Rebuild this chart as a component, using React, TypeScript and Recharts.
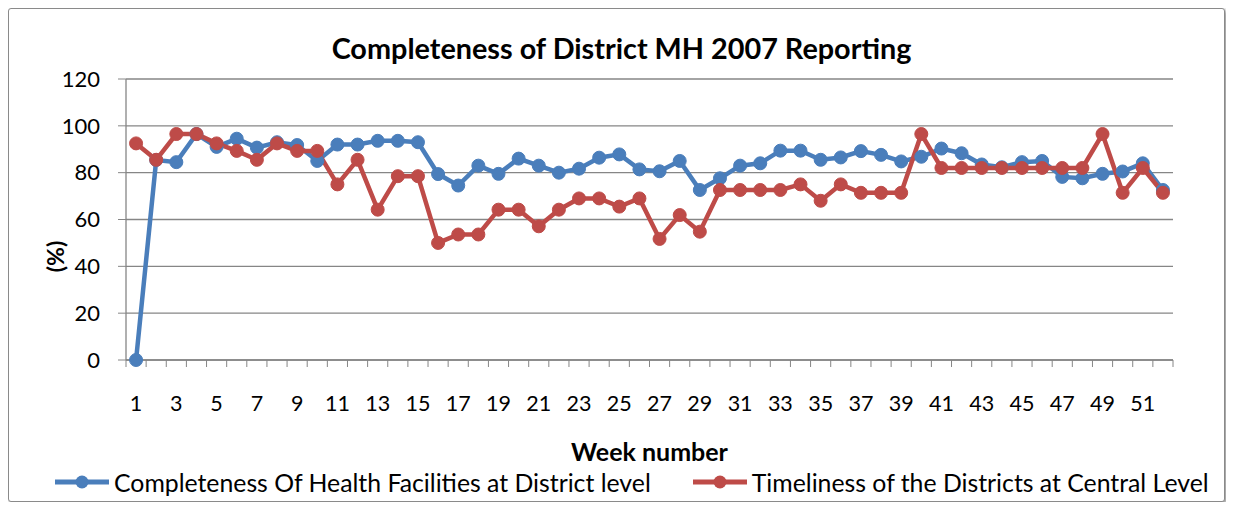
import React from 'react';
import {
  LineChart,
  Line,
  XAxis,
  YAxis,
  CartesianGrid,
  Legend,
  Label,
} from 'recharts';

// week numbers on the category axis
const weeks = [
  1, 2, 3, 4, 5, 6, 7, 8, 9, 10, 11, 12, 13, 14, 15, 16, 17, 18, 19, 20, 21, 22, 23, 24, 25, 26,
  27, 28, 29, 30, 31, 32, 33, 34, 35, 36, 37, 38, 39, 40, 41, 42, 43, 44, 45, 46, 47, 48, 49, 50,
  51, 52,
];

// Completeness Of Health Facilities at District level (%)
const completeness = [
  0, 85.4, 84.5, 96.5, 91, 94.5, 90.7, 93, 91.8, 85, 92, 92, 93.6, 93.6, 93, 79.4, 74.5, 83, 79.5,
  86, 83, 80, 81.7, 86.4, 87.8, 81.4, 80.6, 85, 72.6, 77.6, 83, 84, 89.4, 89.4, 85.5, 86.5, 89.2,
  87.6, 84.8, 86.8, 90.3, 88.3, 83.5, 82.3, 84.5, 85, 78.2, 77.6, 79.5, 80.5, 84, 72.6,
];

// Timeliness of the Districts at Central Level (%)
const timeliness = [
  92.5, 85.5, 96.5, 96.5, 92.5, 89.3, 85.5, 92.5, 89.3, 89.3, 75, 85.5, 64.2, 78.5, 78.5, 50, 53.6,
  53.6, 64.2, 64.2, 57.1, 64.2, 69, 69, 65.5, 69, 51.7, 61.9, 54.8, 72.6, 72.6, 72.6, 72.6, 75, 68,
  75, 71.4, 71.4, 71.4, 96.5, 82, 82, 82, 82, 82, 82, 82, 82, 96.5, 71.4, 82, 71.4,
];

const yTicks = [0, 20, 40, 60, 80, 100, 120];

const seriesNames = [
  'Completeness Of Health Facilities at District level',
  'Timeliness of the Districts at Central Level',
];
const colors = ['#4a7ebb', '#be4b48'];

const chartData = weeks.map((w, i) => ({
  week: w,
  completeness: completeness[i],
  timeliness: timeliness[i],
}));

const FONT = 'Lato, "Open Sans", sans-serif';
const AXIS = '#868686';
const W = 1215;
const H = 492;
const MARGIN = { top: 70, right: 51, left: 57, bottom: 4 };
const Y_AXIS_W = 60;
const PLOT_W = W - MARGIN.left - MARGIN.right - Y_AXIS_W;
const BAND = PLOT_W / weeks.length;

// tick marks sit between categories (Excel style), labels on every other week
const WeekTick = (props: any) => {
  const { x, y, payload, index } = props;
  const half = BAND / 2;
  return (
    <g>
      <line x1={x - half} x2={x - half} y1={y} y2={y + 7} stroke={AXIS} />
      {index === weeks.length - 1 && (
        <line x1={x + half} x2={x + half} y1={y} y2={y + 7} stroke={AXIS} />
      )}
      {index % 2 === 0 && (
        <text
          x={x}
          y={y + 43}
          textAnchor="middle"
          dominantBaseline="central"
          fontFamily={FONT}
          fontSize={21.5}
          fill="#000"
        >
          {payload.value}
        </text>
      )}
    </g>
  );
};

const renderLegend = () => (
  <div style={{ display: 'flex', alignItems: 'center', height: 30, fontFamily: FONT, fontSize: 24.8 }}>
    {seriesNames.map((name, i) => (
      <div key={name} style={{ display: 'flex', alignItems: 'center', marginRight: 42 }}>
        <svg width={54} height={16} style={{ marginRight: 5 }}>
          <line x1={0} x2={54} y1={8} y2={8} stroke={colors[i]} strokeWidth={5} />
          <circle cx={27} cy={8} r={6.5} fill={colors[i]} />
        </svg>
        <span style={{ color: '#000', whiteSpace: 'nowrap' }}>{name}</span>
      </div>
    ))}
  </div>
);

export default function App() {
  return (
    <div
      style={{
        position: 'relative',
        width: 1217,
        height: 494,
        boxSizing: 'border-box',
        border: '1px solid #8a8a8a',
        borderRadius: 3,
        boxShadow: '2px 2px 4px rgba(0,0,0,0.45)',
        background: '#fff',
      }}
    >
      <div
        style={{
          position: 'absolute',
          left: 0,
          right: 0,
          top: 21,
          paddingLeft: 10,
          textAlign: 'center',
          fontFamily: FONT,
          fontWeight: 'bold',
          fontSize: 28.8,
          lineHeight: '36px',
          color: '#000',
        }}
      >
        Completeness of District MH 2007 Reporting
      </div>
      <LineChart width={W} height={H} data={chartData} margin={MARGIN}>
        <CartesianGrid vertical={false} stroke={AXIS} strokeWidth={1.3} />
        <XAxis
          dataKey="week"
          scale="band"
          interval={0}
          height={107}
          tick={<WeekTick />}
          tickLine={false}
          tickSize={0}
          tickMargin={0}
          axisLine={{ stroke: AXIS, strokeWidth: 1.3 }}
        >
          <Label
            value="Week number"
            position="insideBottom"
            offset={6}
            style={{ fontFamily: FONT, fontWeight: 'bold', fontSize: 25, fill: '#000' }}
          />
        </XAxis>
        <YAxis
          width={Y_AXIS_W}
          domain={[0, 120]}
          ticks={yTicks}
          interval={0}
          tickSize={8}
          tickMargin={18}
          tick={{ fontFamily: FONT, fontSize: 22, fill: '#000' }}
          tickLine={{ stroke: AXIS }}
          axisLine={{ stroke: AXIS, strokeWidth: 1.3 }}
        >
          <Label
            content={({ viewBox }: any) => {
              const cx = viewBox.x - 11;
              const cy = viewBox.y + viewBox.height / 2 + 37;
              return (
                <text
                  x={cx}
                  y={cy}
                  transform={`rotate(-90, ${cx}, ${cy})`}
                  textAnchor="middle"
                  dominantBaseline="central"
                  fontFamily={FONT}
                  fontWeight="bold"
                  fontSize={23}
                  fill="#000"
                >
                  (%)
                </text>
              );
            }}
          />
        </YAxis>
        <Legend
          verticalAlign="bottom"
          content={renderLegend}
          wrapperStyle={{ left: 46, width: 1160, height: 30 }}
        />
        <Line
          dataKey="completeness"
          name={seriesNames[0]}
          stroke={colors[0]}
          strokeWidth={4.5}
          dot={{ r: 6.5, fill: colors[0], stroke: colors[0], strokeWidth: 1 }}
          activeDot={false}
          isAnimationActive={false}
        />
        <Line
          dataKey="timeliness"
          name={seriesNames[1]}
          stroke={colors[1]}
          strokeWidth={4.5}
          dot={{ r: 6.5, fill: colors[1], stroke: colors[1], strokeWidth: 1 }}
          activeDot={false}
          isAnimationActive={false}
        />
      </LineChart>
    </div>
  );
}
